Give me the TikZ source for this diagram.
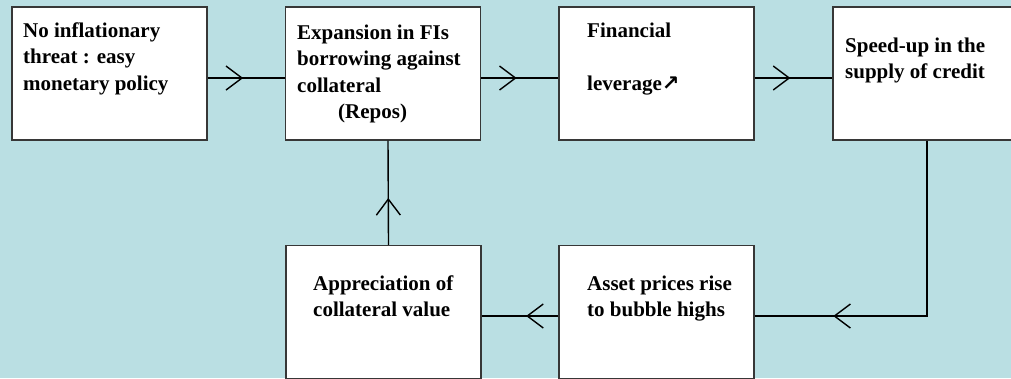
\documentclass[tikz,border=0pt]{standalone}
\usepackage{fontspec}
\setmainfont{Liberation Serif}[BoldFont={Liberation Serif Bold}]
\newfontfamily\arrowfont{DejaVu Sans}
\usepackage{tikz}
\usetikzlibrary{arrows.meta,decorations.markings}
\definecolor{bgblue}{RGB}{186,223,227}
\definecolor{boxline}{RGB}{55,55,55}

\begin{document}
\begin{tikzpicture}[x=1pt,y=-1pt,
	box/.style={draw=boxline,fill=white,line width=1.3pt,minimum width=195pt,minimum height=133pt,inner sep=0pt},
	txt/.style={anchor=north west,inner sep=0pt,align=left,font=\rmfamily\bfseries\fontsize{21}{26.5}\selectfont},
	flow/.style={line width=1.4pt,decoration={markings,mark=at position #1 with {\arrow{Straight Barb[length=16pt,width=24pt]}}},postaction={decorate}}]
	% Hintergrund
		\useasboundingbox (0,0) rectangle (1011,378);
		\fill[bgblue] (0,0) rectangle (1011,378);
	% Kaesten
		\node (b1) at (109.5,73.5) [box] {};
		\node (b2) at (383,73.5) [box] {};
		\node (b3) at (656.5,73.5) [box] {};
		\node (b4) at (930.5,73.5) [box] {};
		\node (b5) at (656.5,312) [box] {};
		\node (b6) at (383.5,312) [box] {};
	% Texte
		\node (t1) at (23,18.5) [txt] {\strut No inflationary\\threat : easy\\monetary policy};
		\node (t2) at (297,20.5) [txt] {\strut Expansion in FIs\\borrowing against\\collateral\\\hspace*{41pt}(Repos)};
		\node (t3) at (587,18.5) [txt] {\strut Financial\\[26.5pt]leverage{\arrowfont\bfseries ↗}};
		\node (t4) at (845,33.5) [txt] {\strut Speed-up in the\\supply of credit};
		\node (t5) at (587,271.5) [txt] {\strut Asset prices rise\\to bubble highs};
		\node (t6) at (313,271.5) [txt] {\strut Appreciation of\\collateral value};
	% Pfeile
		\draw[flow=.46] ([yshift=-4.5pt]b1.east) -- ([yshift=-4.5pt]b2.west);
		\draw[flow=.46] ([yshift=-4.5pt]b2.east) -- ([yshift=-4.5pt]b3.west);
		\draw[flow=.46] ([yshift=-4.5pt]b3.east) -- ([yshift=-4.5pt]b4.west);
		\draw[flow=.774] ([xshift=-3.5pt]b4.south) |- ([yshift=-4pt]b5.east);
		\draw[flow=.42] ([yshift=-4pt]b5.west) -- ([yshift=-4pt]b6.east);
		\draw[flow=.45] ([xshift=5pt]b6.north) -- ([xshift=5pt]b2.south);
\end{tikzpicture}
\end{document}
